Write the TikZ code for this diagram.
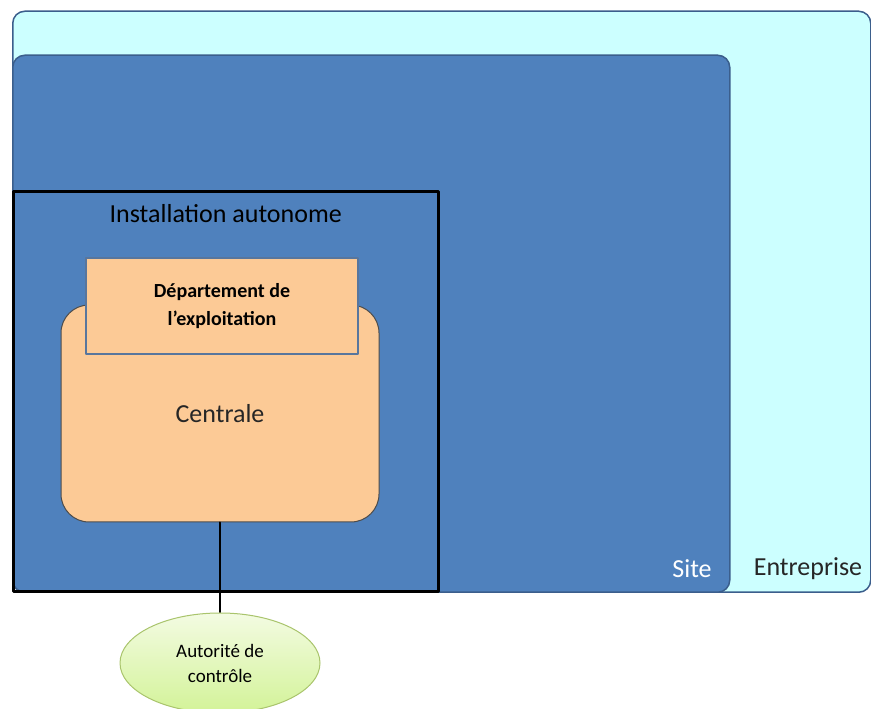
\documentclass[tikz,border=0pt]{standalone}
\usepackage{fontspec}
\setmainfont{Carlito}
\usetikzlibrary{shapes.geometric,positioning}
\definecolor{entfill}{HTML}{CCFFFF}
\definecolor{sitefill}{HTML}{4F81BD}
\definecolor{boxline}{HTML}{3B5E8C}
\definecolor{orangefill}{HTML}{FCCA96}
\definecolor{greentop}{HTML}{F3FBE2}
\definecolor{greenbot}{HTML}{D3F398}
\definecolor{greenline}{HTML}{A9C46C}
\tikzset{
  zone/.style={draw=boxline,line width=1.5pt,rounded corners=12pt,anchor=south west,inner sep=0pt},
  bigtext/.style={font=\fontsize{26}{30}\selectfont}
}
\begin{document}
\begin{tikzpicture}[x=1pt,y=1pt,line join=round,line cap=round]
            \useasboundingbox (0,0) rectangle (871,709);
            % zones
            \node[zone,fill=entfill,minimum width=858pt,minimum height=581pt] (E) at (12,116) {};
            \node[zone,fill=sitefill,minimum width=717pt,minimum height=537pt] (S) at (12,116) {};
            \node[draw=black,line width=2.5pt,anchor=south west,inner sep=0pt,
                  minimum width=425pt,minimum height=400pt] (I) at (12,116) {};
            \node[bigtext,anchor=north] (Ilab) at ([yshift=-10pt]I.north) {Installation autonome};
            \node[bigtext,text=white] (Slab) at (692,140) {Site};
            \node[bigtext,text=black!85] (Elab) at (808,140) {Entreprise};
            % centrale
            \node[draw=black!70,line width=1pt,fill=orangefill,rounded corners=28pt,
                  minimum width=318pt,minimum height=217pt,bigtext,text=black!85] (C) at (220,295.5) {Centrale};
            \node[draw=boxline!85!white,line width=2pt,fill=orangefill,minimum width=272pt,minimum height=96pt,
                  align=center,font=\bfseries\fontsize{20}{28}\selectfont] (D) at (222,403) {Département de\\l’exploitation};
            % autorite
            \draw[line width=2pt] (C.south) -- ++(0,-90) coordinate (Atop);
            \node[ellipse,draw=greenline,line width=1pt,top color=greentop,bottom color=greenbot,
                  minimum width=200pt,minimum height=100pt,anchor=north,align=center,
                  font=\fontsize{19}{25}\selectfont] (A) at (Atop) {Autorité de\\contrôle};
\end{tikzpicture}
\end{document}
